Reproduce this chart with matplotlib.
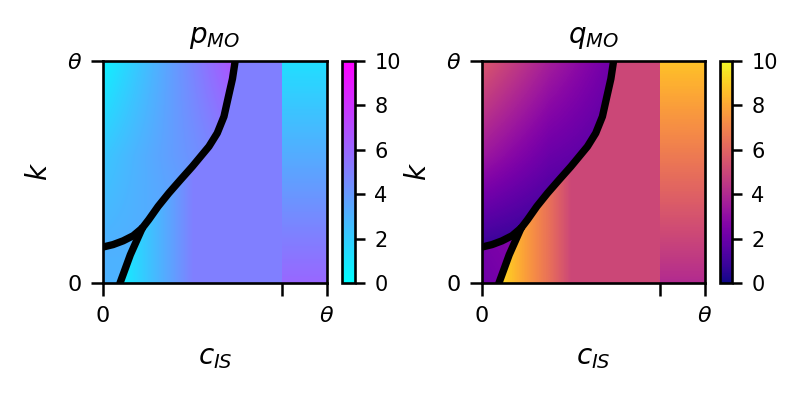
import numpy as np
import matplotlib
matplotlib.use("Agg")
import matplotlib.pyplot as plt
from matplotlib.patches import Polygon

# ---------------- data (theta = 1) ----------------
# boundary curves
main_x = [0.175, 0.204, 0.246, 0.294, 0.346, 0.399, 0.436, 0.473, 0.510, 0.540, 0.560, 0.578, 0.590]
main_y = [0.247, 0.285, 0.345, 0.405, 0.465, 0.525, 0.570, 0.615, 0.675, 0.750, 0.840, 0.920, 1.000]
low_x = [0.000, 0.045, 0.090, 0.135, 0.175]
low_y = [0.162, 0.173, 0.190, 0.213, 0.247]
steep_x = [0.076, 0.122, 0.175]
steep_y = [0.000, 0.127, 0.247]
x_split = 0.8

# region A (upper-left, above the curves): anchor values
A_x = [0.0, 0.3, 0.6]
A_y = [0.15, 0.575, 1.0]
p_A = [[3.1, 3.3, 3.6],
       [2.2, 3.8, 5.3],
       [0.5, 3.7, 7.0]]
q_A = [[0.7, 0.4, 0.3],
       [3.4, 2.0, 1.4],
       [5.6, 3.6, 2.0]]

# region B (right of the curve, left of x_split)
B_x = [0.0, 0.1, 0.2, 0.3, 0.4, 0.5, 0.6, 0.7, 0.8]
B_y = [0.5]
p_B = [[-0.4, 0.9, 2.3, 3.6, 5.0, 5.0, 5.0, 5.0, 5.0]]
q_B = [[10.4, 9.1, 7.7, 6.4, 5.0, 5.0, 5.0, 5.0, 5.0]]

# region C (x > x_split)
C_x = [0.9]
C_y = [0.0, 1.0]
p_C = [[6.0], [1.3]]
q_C = [[4.0], [8.7]]

# region D (bottom-left wedge)
D_x = [0.0, 0.2]
D_y = [0.0, 0.25]
p_D = [[3.0, 3.0], [3.1, 3.1]]
q_D = [[2.1, 2.5], [2.4, 2.8]]

titles = [r"$p_{MO}$", r"$q_{MO}$"]
cmaps = ["cool", "plasma"]
cbar_ticks = [0, 2, 4, 6, 8, 10]
x_tick_labels = ["0", "", r"$\theta$"]
y_tick_labels = ["0", r"$\theta$"]

# ---------------- drawing ----------------
W, H = 809, 396
fig = plt.figure(figsize=(W / 100, H / 100), dpi=100)


def fx(px):
    return px / W


def fy(py):
    return 1 - py / H


ax_boxes = [(103, 61, 327, 283), (482, 61, 705, 283)]
cb_boxes = [(342, 61, 355, 283), (720, 61, 732, 283)]


def draw_region(ax, xs, ys, vals, cmap, poly, xw=0.2, yh=1.0):
    xs = np.asarray(xs, float)
    ys = np.asarray(ys, float)
    v = np.asarray(vals, float)
    dx = xs[1] - xs[0] if len(xs) > 1 else xw
    dy = ys[1] - ys[0] if len(ys) > 1 else yh
    ext = [xs[0] - dx / 2, xs[-1] + dx / 2, ys[0] - dy / 2, ys[-1] + dy / 2]
    im = ax.imshow(v, origin="lower", extent=ext, cmap=cmap, vmin=0, vmax=10,
                   interpolation="bilinear", interpolation_stage="data",
                   aspect="auto")
    patch = Polygon(poly, closed=True, transform=ax.transData,
                    facecolor="none", edgecolor="none")
    im.set_clip_path(patch)
    return im


main_pts = list(zip(main_x, main_y))
low_pts = list(zip(low_x, low_y))
steep_pts = list(zip(steep_x, steep_y))

poly_A = [(0, 1)] + main_pts[::-1] + low_pts[::-1]
poly_D = [(0, 0)] + steep_pts + low_pts[::-1]
poly_B = [(steep_x[0], 0), (x_split + 0.01, 0), (x_split + 0.01, 1)] + main_pts[::-1] + steep_pts[::-1]
poly_C = [(x_split, 0), (1.05, 0), (1.05, 1.05), (x_split, 1.05)]

fields = [(p_A, p_B, p_C, p_D), (q_A, q_B, q_C, q_D)]

for i in range(2):
    l, t, r, b = ax_boxes[i]
    ax = fig.add_axes([fx(l), fy(b), fx(r - l), fy(t) - fy(b)])
    fA, fB, fC, fD = fields[i]
    cm = cmaps[i]
    im = draw_region(ax, A_x, A_y, fA, cm, poly_A)
    draw_region(ax, B_x, B_y, fB, cm, poly_B, yh=1.0)
    draw_region(ax, C_x, C_y, fC, cm, poly_C, xw=0.2)
    draw_region(ax, D_x, D_y, fD, cm, poly_D)

    lw = 5.3
    for cx, cy in ((main_x, main_y), (low_x, low_y), (steep_x, steep_y)):
        ax.plot(cx, cy, color="k", lw=lw, solid_capstyle="round", solid_joinstyle="round")

    ax.set_xlim(0, 1)
    ax.set_ylim(0, 1)
    ax.set_xticks([0, x_split, 1])
    ax.set_xticklabels(x_tick_labels)
    ax.set_yticks([0, 1])
    ax.set_yticklabels(y_tick_labels)
    ax.tick_params(length=9, width=1.8, labelsize=16, pad=6)
    ax.tick_params(axis="x", pad=7.5)
    for s in ax.spines.values():
        s.set_linewidth(1.9)
    ax.set_title(titles[i], fontsize=20, pad=13.3)
    ax.set_xlabel(r"$c_{IS}$", fontsize=20, labelpad=12.5)
    ax.set_ylabel(r"$k$", fontsize=20, labelpad=10)

    l, t, r, b = cb_boxes[i]
    cax = fig.add_axes([fx(l), fy(b), fx(r - l), fy(t) - fy(b)])
    cb = fig.colorbar(im, cax=cax, ticks=cbar_ticks)
    cb.outline.set_linewidth(1.9)
    cax.tick_params(length=7, width=1.8, labelsize=15, pad=7)

fig.savefig("out.png", dpi=100)
